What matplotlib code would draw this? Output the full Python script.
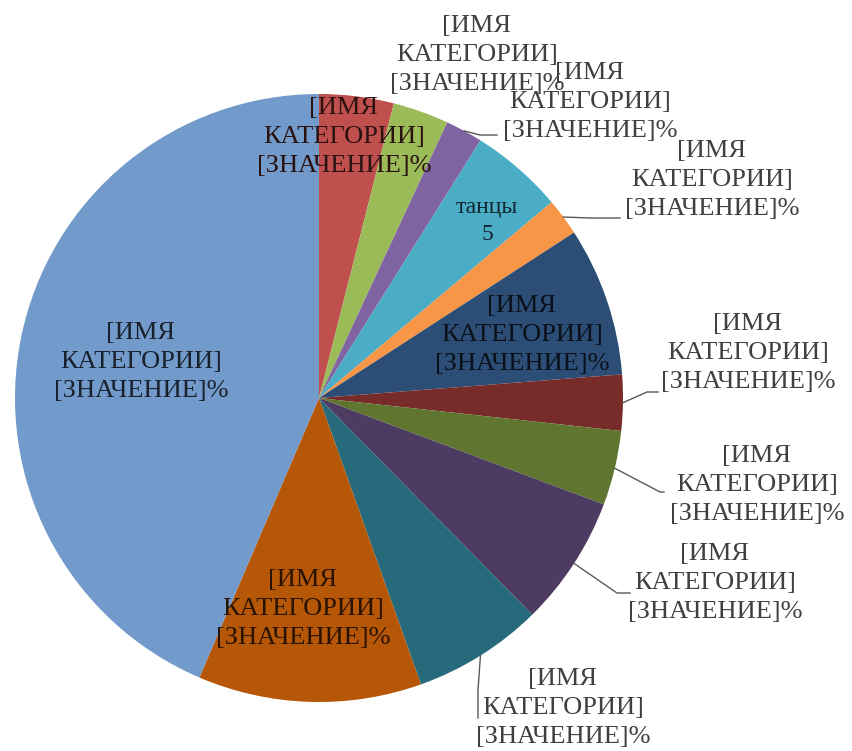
import numpy as np
import matplotlib.pyplot as plt
from matplotlib.colors import to_rgb

# Доли секторов (по часовой стрелке от 12 часов)
values = [4, 3, 2, 5, 2, 8, 3, 4, 7, 7, 12, 44]
placeholder = '[ИМЯ\nКАТЕГОРИИ]\n[ЗНАЧЕНИЕ]%'
labels = [placeholder, placeholder, placeholder, 'танцы\n5', placeholder,
          placeholder, placeholder, placeholder, placeholder, placeholder,
          placeholder, placeholder]
colors = ['#C0504D', '#9BBB59', '#8064A2', '#4BACC6', '#F79646', '#2C4D75',
          '#772C2A', '#5F7530', '#4D3B62', '#276A7C', '#B65708', '#729ACA']

# Расположение подписей (пиксели картинки, y вниз)
label_pos = [(344, 137), (477, 55), (590, 102), (487, 221), (712, 180),
             (522, 335), (748, 353), (757, 485), (715, 583), (563, 708),
             (303, 609), (141, 362)]
inside = [True, False, False, True, False, True, False, False, False, False,
          True, True]
# линии-выноски: (индекс сектора, изгиб, конец)
leaders = [(2, (480, 135), (497, 135)),
           (4, (590, 218), (620, 218)),
           (6, (647, 392), (658, 392)),
           (7, (660, 492), (664, 492)),
           (8, (617, 593), (630, 593)),
           (9, (478, 690), (478, 718))]

center = (319, 398)
radius = 304

fig = plt.figure(figsize=(8.53, 7.51), dpi=100)
ax = fig.add_axes([0, 0, 1, 1])

wedges, _ = ax.pie(values, colors=colors, startangle=-90, counterclock=True,
                   center=center, radius=radius,
                   wedgeprops=dict(linewidth=0))
ax.set_xlim(0, 853)
ax.set_ylim(751, 0)
ax.set_aspect('equal')
ax.axis('off')

for i, (txt, (x, y)) in enumerate(zip(labels, label_pos)):
    if inside[i]:
        c = tuple(v * 0.22 for v in to_rgb(colors[i]))
    else:
        c = '#404040'
    fs = 17 if i == 3 else 19
    ax.text(x, y, txt, ha='center', va='center', fontsize=fs,
            family='Liberation Serif', color=c, linespacing=1.4)

for idx, elbow, end in leaders:
    w = wedges[idx]
    mid = np.deg2rad((w.theta1 + w.theta2) / 2)
    sx = center[0] + radius * np.cos(mid)
    sy = center[1] + radius * np.sin(mid)
    ax.plot([sx, elbow[0], end[0]], [sy, elbow[1], end[1]],
            color='#595959', linewidth=1)

plt.savefig('out.png', dpi=100)
